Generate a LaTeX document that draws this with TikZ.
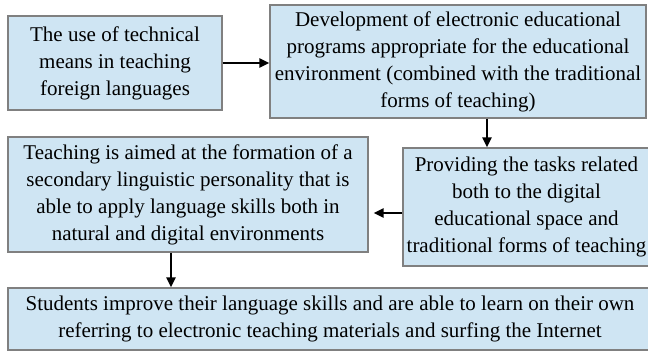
\documentclass[tikz,border=0pt]{standalone}
\usepackage{fontspec}
\setmainfont{Liberation Serif}
\usetikzlibrary{arrows.meta}
\definecolor{boxfill}{RGB}{207,229,243}
\definecolor{boxline}{RGB}{128,128,128}
\tikzset{
  box/.style={draw=boxline, line width=1.2pt, fill=boxfill, align=center,
    inner sep=0pt, font=\fontsize{21}{27}\selectfont},
  arrow/.style={line width=2.2pt, -{Triangle[length=10pt,width=9pt]}}
}

\begin{document}
\begin{tikzpicture}[x=1pt,y=-1pt]
  \useasboundingbox (0,0) rectangle (648,352);
  \node[box, minimum width=214pt, minimum height=94pt] (means) at (115,63)
    {The use of technical\\means in teaching\\foreign languages};
  \node[box, minimum width=376pt, minimum height=113pt] (programs) at (458,61.5)
    {Development of electronic educational\\programs appropriate for the educational\\environment (combined with the traditional\\forms of teaching)};
  \node[box, minimum width=247pt, minimum height=118pt] (tasks) at (526.5,207)
    {Providing the tasks related\\both to the digital\\educational space and\\traditional forms of teaching};
  \node[box, minimum width=360pt, minimum height=115pt] (personality) at (188,194.5)
    {Teaching is aimed at the formation of a\\secondary linguistic personality that is\\able to apply language skills both in\\natural and digital environments};
  \node[box, minimum width=644pt, minimum height=62pt] (students) at (330,319)
    {Students improve their language skills and are able to learn on their own\\referring to electronic teaching materials and surfing the Internet};
  % arrows
  \draw[arrow] (means.east) -- (means.east -| programs.west);
  \draw[arrow] ([xshift=29pt]programs.south) -- ([xshift=29pt]programs.south |- tasks.north);
  \draw[arrow, shorten >=5pt] ([yshift=-6pt]tasks.west) -- ([yshift=-6pt]tasks.west -| personality.east);
  \draw[arrow] ([xshift=-17pt]personality.south) -- ([xshift=-17pt]personality.south |- students.north);
\end{tikzpicture}
\end{document}
